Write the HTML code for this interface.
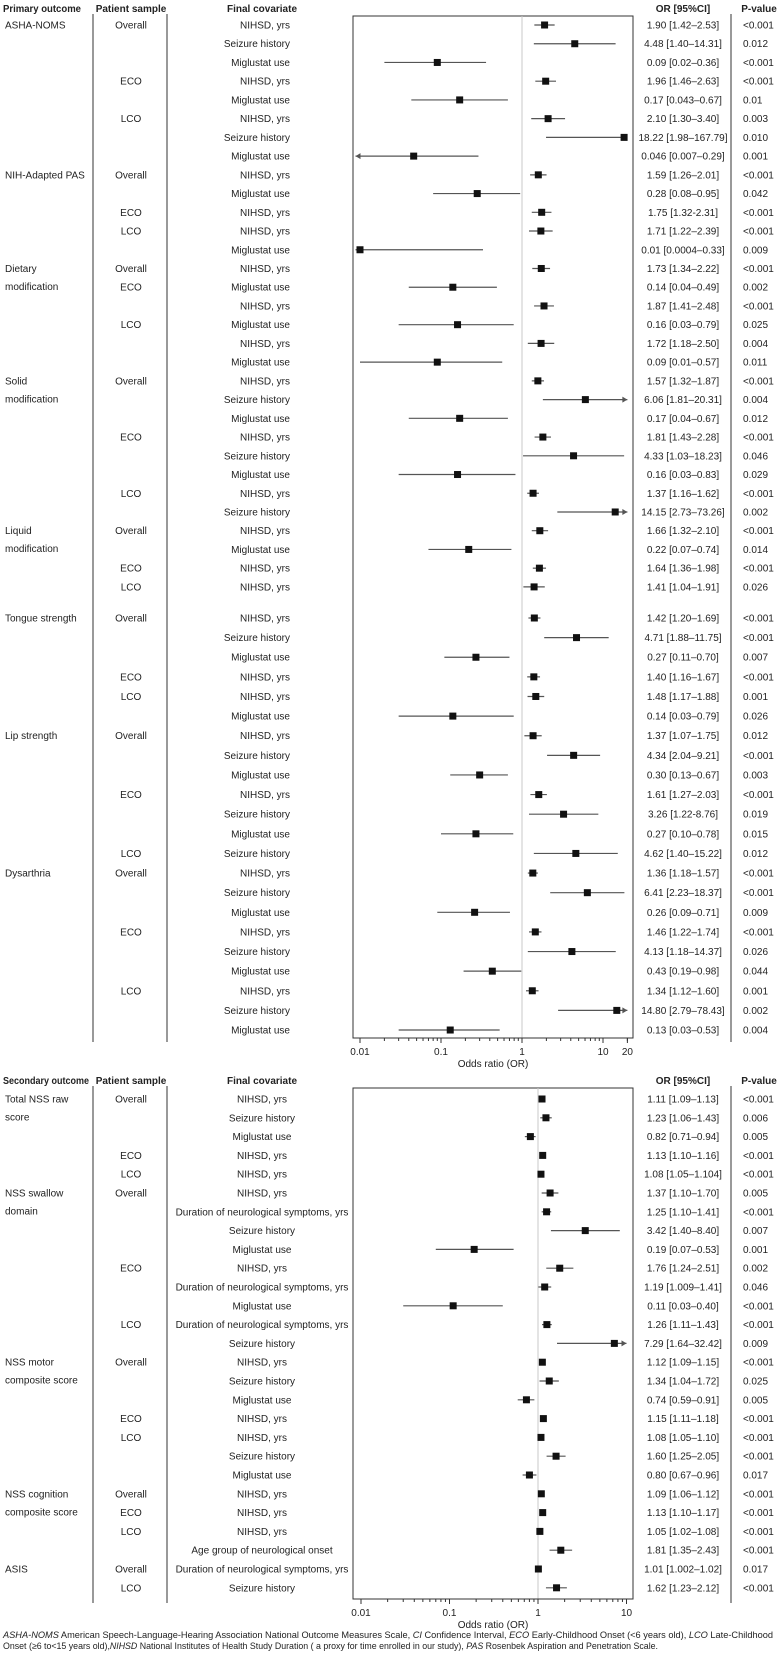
<!DOCTYPE html>
<html><head><meta charset="utf-8"><style>
html,body{margin:0;padding:0;background:#fff;}
svg{display:block;font-family:"Liberation Sans",Arial,sans-serif;}
</style></head>
<body>
<svg id="chart" width="778" height="1655" viewBox="0 0 778 1655" xmlns="http://www.w3.org/2000/svg"></svg>
<script>
// ---------- Panel 1 data (primary outcome) ----------
const p1Cov = ["NIHSD, yrs","Seizure history","Miglustat use","NIHSD, yrs","Miglustat use","NIHSD, yrs","Seizure history","Miglustat use",
"NIHSD, yrs","Miglustat use","NIHSD, yrs","NIHSD, yrs","Miglustat use",
"NIHSD, yrs","Miglustat use","NIHSD, yrs","Miglustat use","NIHSD, yrs","Miglustat use",
"NIHSD, yrs","Seizure history","Miglustat use","NIHSD, yrs","Seizure history","Miglustat use","NIHSD, yrs","Seizure history",
"NIHSD, yrs","Miglustat use","NIHSD, yrs","NIHSD, yrs",
"NIHSD, yrs","Seizure history","Miglustat use","NIHSD, yrs","NIHSD, yrs","Miglustat use",
"NIHSD, yrs","Seizure history","Miglustat use","NIHSD, yrs","Seizure history","Miglustat use","Seizure history",
"NIHSD, yrs","Seizure history","Miglustat use","NIHSD, yrs","Seizure history","Miglustat use","NIHSD, yrs","Seizure history","Miglustat use"];
const p1OR = [1.90,4.48,0.09,1.96,0.17,2.10,18.22,0.046, 1.59,0.28,1.75,1.71,0.01, 1.73,0.14,1.87,0.16,1.72,0.09,
1.57,6.06,0.17,1.81,4.33,0.16,1.37,14.15, 1.66,0.22,1.64,1.41, 1.42,4.71,0.27,1.40,1.48,0.14,
1.37,4.34,0.30,1.61,3.26,0.27,4.62, 1.36,6.41,0.26,1.46,4.13,0.43,1.34,14.80,0.13];
const p1Lo = [1.42,1.40,0.02,1.46,0.043,1.30,1.98,0.007, 1.26,0.08,1.32,1.22,0.0004, 1.34,0.04,1.41,0.03,1.18,0.01,
1.32,1.81,0.04,1.43,1.03,0.03,1.16,2.73, 1.32,0.07,1.36,1.04, 1.20,1.88,0.11,1.16,1.17,0.03,
1.07,2.04,0.13,1.27,1.22,0.10,1.40, 1.18,2.23,0.09,1.22,1.18,0.19,1.12,2.79,0.03];
const p1Hi = [2.53,14.31,0.36,2.63,0.67,3.40,167.79,0.29, 2.01,0.95,2.31,2.39,0.33, 2.22,0.49,2.48,0.79,2.50,0.57,
1.87,20.31,0.67,2.28,18.23,0.83,1.62,73.26, 2.10,0.74,1.98,1.91, 1.69,11.75,0.70,1.67,1.88,0.79,
1.75,9.21,0.67,2.03,8.76,0.78,15.22, 1.57,18.37,0.71,1.74,14.37,0.98,1.60,78.43,0.53];
const p1CiText = ["1.90 [1.42–2.53]","4.48 [1.40–14.31]","0.09 [0.02–0.36]","1.96 [1.46–2.63]","0.17 [0.043–0.67]","2.10 [1.30–3.40]","18.22 [1.98–167.79]","0.046 [0.007–0.29]",
"1.59 [1.26–2.01]","0.28 [0.08–0.95]","1.75 [1.32-2.31]","1.71 [1.22–2.39]","0.01 [0.0004–0.33]",
"1.73 [1.34–2.22]","0.14 [0.04–0.49]","1.87 [1.41–2.48]","0.16 [0.03–0.79]","1.72 [1.18–2.50]","0.09 [0.01–0.57]",
"1.57 [1.32–1.87]","6.06 [1.81–20.31]","0.17 [0.04–0.67]","1.81 [1.43–2.28]","4.33 [1.03–18.23]","0.16 [0.03–0.83]","1.37 [1.16–1.62]","14.15 [2.73–73.26]",
"1.66 [1.32–2.10]","0.22 [0.07–0.74]","1.64 [1.36–1.98]","1.41 [1.04–1.91]",
"1.42 [1.20–1.69]","4.71 [1.88–11.75]","0.27 [0.11–0.70]","1.40 [1.16–1.67]","1.48 [1.17–1.88]","0.14 [0.03–0.79]",
"1.37 [1.07–1.75]","4.34 [2.04–9.21]","0.30 [0.13–0.67]","1.61 [1.27–2.03]","3.26 [1.22-8.76]","0.27 [0.10–0.78]","4.62 [1.40–15.22]",
"1.36 [1.18–1.57]","6.41 [2.23–18.37]","0.26 [0.09–0.71]","1.46 [1.22–1.74]","4.13 [1.18–14.37]","0.43 [0.19–0.98]","1.34 [1.12–1.60]","14.80 [2.79–78.43]","0.13 [0.03–0.53]"];
const p1P = ["<0.001","0.012","<0.001","<0.001","0.01","0.003","0.010","0.001",
"<0.001","0.042","<0.001","<0.001","0.009",
"<0.001","0.002","<0.001","0.025","0.004","0.011",
"<0.001","0.004","0.012","<0.001","0.046","0.029","<0.001","0.002",
"<0.001","0.014","<0.001","0.026",
"<0.001","<0.001","0.007","<0.001","0.001","0.026",
"0.012","<0.001","0.003","<0.001","0.019","0.015","0.012",
"<0.001","<0.001","0.009","<0.001","0.026","0.044","0.001","0.002","0.004"];
const p1Groups = [[0,"ASHA-NOMS"],[8,"NIH-Adapted PAS"],[13,"Dietary","modification"],[19,"Solid","modification"],[27,"Liquid","modification"],[31,"Tongue strength"],[37,"Lip strength"],[44,"Dysarthria"]];
const p1Samples = [[0,"Overall"],[3,"ECO"],[5,"LCO"],[8,"Overall"],[10,"ECO"],[11,"LCO"],[13,"Overall"],[14,"ECO"],[16,"LCO"],
[19,"Overall"],[22,"ECO"],[25,"LCO"],[27,"Overall"],[29,"ECO"],[30,"LCO"],[31,"Overall"],[34,"ECO"],[35,"LCO"],
[37,"Overall"],[40,"ECO"],[43,"LCO"],[44,"Overall"],[47,"ECO"],[50,"LCO"]];
const p1Ticks = [0.01,0.1,1,10,20];
const p1TickLabels = ["0.01","0.1","1","10","20"];

// ---------- Panel 2 data (secondary outcome) ----------
const p2Cov = ["NIHSD, yrs","Seizure history","Miglustat use","NIHSD, yrs","NIHSD, yrs",
"NIHSD, yrs","Duration of neurological symptoms, yrs","Seizure history","Miglustat use","NIHSD, yrs","Duration of neurological symptoms, yrs","Miglustat use","Duration of neurological symptoms, yrs","Seizure history",
"NIHSD, yrs","Seizure history","Miglustat use","NIHSD, yrs","NIHSD, yrs","Seizure history","Miglustat use",
"NIHSD, yrs","NIHSD, yrs","NIHSD, yrs","Age group of neurological onset",
"Duration of neurological symptoms, yrs","Seizure history"];
const p2OR = [1.11,1.23,0.82,1.13,1.08, 1.37,1.25,3.42,0.19,1.76,1.19,0.11,1.26,7.29, 1.12,1.34,0.74,1.15,1.08,1.60,0.80, 1.09,1.13,1.05,1.81, 1.01,1.62];
const p2Lo = [1.09,1.06,0.71,1.10,1.05, 1.10,1.10,1.40,0.07,1.24,1.009,0.03,1.11,1.64, 1.09,1.04,0.59,1.11,1.05,1.25,0.67, 1.06,1.10,1.02,1.35, 1.002,1.23];
const p2Hi = [1.13,1.43,0.94,1.16,1.104, 1.70,1.41,8.40,0.53,2.51,1.41,0.40,1.43,32.42, 1.15,1.72,0.91,1.18,1.10,2.05,0.96, 1.12,1.17,1.08,2.43, 1.02,2.12];
const p2CiText = ["1.11 [1.09–1.13]","1.23 [1.06–1.43]","0.82 [0.71–0.94]","1.13 [1.10–1.16]","1.08 [1.05–1.104]",
"1.37 [1.10–1.70]","1.25 [1.10–1.41]","3.42 [1.40–8.40]","0.19 [0.07–0.53]","1.76 [1.24–2.51]","1.19 [1.009–1.41]","0.11 [0.03–0.40]","1.26 [1.11–1.43]","7.29 [1.64–32.42]",
"1.12 [1.09–1.15]","1.34 [1.04–1.72]","0.74 [0.59–0.91]","1.15 [1.11–1.18]","1.08 [1.05–1.10]","1.60 [1.25–2.05]","0.80 [0.67–0.96]",
"1.09 [1.06–1.12]","1.13 [1.10–1.17]","1.05 [1.02–1.08]","1.81 [1.35–2.43]","1.01 [1.002–1.02]","1.62 [1.23–2.12]"];
const p2P = ["<0.001","0.006","0.005","<0.001","<0.001","0.005","<0.001","0.007","0.001","0.002","0.046","<0.001","<0.001","0.009",
"<0.001","0.025","0.005","<0.001","<0.001","<0.001","0.017","<0.001","<0.001","<0.001","<0.001","0.017","<0.001"];
const p2Groups = [[0,"Total NSS raw"," score"],[5,"NSS swallow","domain"],[14,"NSS motor","composite score"],[21,"NSS cognition","composite score"],[25,"ASIS"]];
const p2Samples = [[0,"Overall"],[3,"ECO"],[4,"LCO"],[5,"Overall"],[9,"ECO"],[12,"LCO"],[14,"Overall"],[17,"ECO"],[18,"LCO"],[21,"Overall"],[22,"ECO"],[23,"LCO"],[25,"Overall"],[26,"LCO"]];
const p2Ticks = [0.01,0.1,1,10];
const p2TickLabels = ["0.01","0.1","1","10"];

// ---------- rendering ----------
const NS = "http://www.w3.org/2000/svg";
const svg = document.getElementById("chart");
function mk(tag, attrs, parent, txt) {
  const e = document.createElementNS(NS, tag);
  for (const k in attrs) e.setAttribute(k, attrs[k]);
  if (txt !== undefined) e.textContent = txt;
  (parent || svg).appendChild(e);
  return e;
}
function txt(x, y, s, opts, parent) {
  const o = Object.assign({x: x, y: y, "font-size": 10, fill: "#222"}, opts || {});
  return mk("text", o, parent, s);
}

function drawPanel(cfg) {
  const g = mk("g", {});
  
  
  const xs = v => cfg.x1 + cfg.dec * Math.log10(v);
  const ys = cfg.yScale;
  const n = cfg.or.length;

  const hy = cfg.headY;
  const h1 = txt(3, hy, cfg.title, {"font-weight": "bold", textLength: cfg.titleLen, lengthAdjust: "spacingAndGlyphs"}, g);
  
  
  const h2 = txt(131, hy, "Patient sample", {"font-weight": "bold", "text-anchor": "middle"}, g);
  
  
  const h3 = txt(262, hy, "Final covariate", {"font-weight": "bold", "text-anchor": "middle"}, g);
  
  
  const h4 = txt(683, hy, "OR [95%CI]", {"font-weight": "bold", "text-anchor": "middle"}, g);
  
  
  const h5 = txt(759, hy, "P-value", {"font-weight": "bold", "text-anchor": "middle"}, g);
  
  

  [93, 167, 731].forEach(x => {
    const l = mk("line", {x1: x, x2: x, y1: cfg.boxTop - 2, y2: cfg.boxBot + 4, stroke: "#333", "stroke-width": 1}, g);
    
    
  });

  const box = mk("rect", {x: cfg.boxL, y: cfg.boxTop, width: cfg.boxR - cfg.boxL, height: cfg.boxBot - cfg.boxTop, fill: "none", stroke: "#333", "stroke-width": 1}, g);
  
  
  const ref = mk("line", {x1: xs(1), x2: xs(1), y1: cfg.boxTop, y2: cfg.boxBot, stroke: "#c8c8c8", "stroke-width": 1}, g);
  
  

  cfg.groups.forEach(gr => {
    const y = ys(gr[0]) + 3.5;
    const t = txt(5, y, gr[1], {}, g);
    
    
    if (gr[2]) {
      const t2 = txt(5, y + 18, gr[2], {}, g);
      
      
    }
  });
  cfg.samples.forEach(s => {
    const t = txt(131, ys(s[0]) + 3.5, s[1], {"text-anchor": "middle"}, g);
    
    
  });

  const lo = cfg.clipLo, hi = cfg.clipHi;
  for (let i = 0; i < n; i++) {
    const y = ys(i);
    const cv = txt(cfg.covAnchor === "end" ? 290 : 262, y + 3.5, cfg.cov[i], {"text-anchor": cfg.covAnchor}, g);
    
    
    const ci = txt(683, y + 3.5, cfg.ciText[i], {"text-anchor": "middle"}, g);
    
    
    const pv = txt(743, y + 3.5, cfg.p[i], {}, g);
    
    

    const a = Math.max(cfg.lo[i], lo), b = Math.min(cfg.hi[i], hi);
    const xa = xs(a), xb = xs(b);
    const ln = mk("line", {x1: xa, x2: xb, y1: y, y2: y, stroke: "#555", "stroke-width": 1.2}, g);
    
    
    if (cfg.hi[i] > hi) {
      const ar = mk("path", {d: `M${xb},${y} l-5,-3 l0,6 z`, fill: "#555"}, g);
      
      
    }
    if (cfg.lo[i] < lo) {
      const ar = mk("path", {d: `M${xa},${y} l5,-3 l0,6 z`, fill: "#555"}, g);
      
      
    }
    const sq = mk("rect", {x: xs(cfg.or[i]) - 3.5, y: y - 3.5, width: 7, height: 7, fill: "#111"}, g);
    
    
  }

  const ay = cfg.boxBot;
  const ax = mk("line", {x1: xs(cfg.ticks[0]), x2: xs(cfg.ticks[cfg.ticks.length - 1]), y1: ay, y2: ay, stroke: "#333", "stroke-width": 1}, g);
  
  
  const maxV = cfg.ticks[cfg.ticks.length - 1];
  for (let d = 0.01; d < maxV; d *= 10) {
    for (let m = 1; m <= 9; m++) {
      const v = d * m;
      if (v > maxV + 1e-9) break;
      const tk = mk("line", {x1: xs(v), x2: xs(v), y1: ay, y2: ay + (m === 1 ? 5 : 3), stroke: "#333", "stroke-width": 1}, g);
      
      
    }
  }
  const lt = mk("line", {x1: xs(maxV), x2: xs(maxV), y1: ay, y2: ay + 5, stroke: "#333", "stroke-width": 1}, g);
  
  
  cfg.ticks.forEach((v, k) => {
    const t = txt(xs(v), ay + 17, cfg.tickLabels[k], {"text-anchor": "middle"}, g);
    
    
  });
  const at = txt((cfg.boxL + cfg.boxR) / 2, ay + 29, "Odds ratio (OR)", {"text-anchor": "middle"}, g);
  
  
}

drawPanel({
  name: "primary-outcome-panel", title: "Primary outcome", titleLen: 78, headY: 12,
  cov: p1Cov, or: p1OR, lo: p1Lo, hi: p1Hi, ciText: p1CiText, p: p1P, groups: p1Groups, samples: p1Samples,
  ticks: p1Ticks, tickLabels: p1TickLabels,
  x1: 522, dec: 81, boxL: 353, boxR: 633, boxTop: 16, boxBot: 1038,
  clipLo: 0.0088, clipHi: 20, covAnchor: "end",
  yScale: i => (i <= 30 ? 25 + i * 18.73 : 618 + (i - 31) * 19.62)
});
drawPanel({
  name: "secondary-outcome-panel", title: "Secondary outcome", titleLen: 86, headY: 1084,
  cov: p2Cov, or: p2OR, lo: p2Lo, hi: p2Hi, ciText: p2CiText, p: p2P, groups: p2Groups, samples: p2Samples,
  ticks: p2Ticks, tickLabels: p2TickLabels,
  x1: 538, dec: 88.5, boxL: 353, boxR: 633, boxTop: 1088, boxBot: 1599,
  clipLo: 0.0088, clipHi: 10, covAnchor: "middle",
  yScale: i => 1099 + i * 18.8
});

const fn = mk("text", {x: 3, y: 1638, "font-size": 9.2, fill: "#222", textLength: 770, lengthAdjust: "spacingAndGlyphs"});


[["ASHA-NOMS", true], [" American Speech-Language-Hearing Association National Outcome Measures Scale, ", false], ["CI", true], [" Confidence Interval, ", false], ["ECO", true], [" Early-Childhood Onset (<6 years old), ", false], ["LCO", true], [" Late-Childhood", false]]
  .forEach(p => mk("tspan", p[1] ? {"font-style": "italic"} : {}, fn, p[0]));
const fn2 = mk("text", {x: 3, y: 1649, "font-size": 9.2, fill: "#222", textLength: 655, lengthAdjust: "spacingAndGlyphs"});


[["Onset (≥6 to<15 years old),", false], ["NIHSD", true], [" National Institutes of Health Study Duration ( a proxy for time enrolled in our study), ", false], ["PAS", true], [" Rosenbek Aspiration and Penetration Scale.", false]]
  .forEach(p => mk("tspan", p[1] ? {"font-style": "italic"} : {}, fn2, p[0]));
</script>
</body></html>
